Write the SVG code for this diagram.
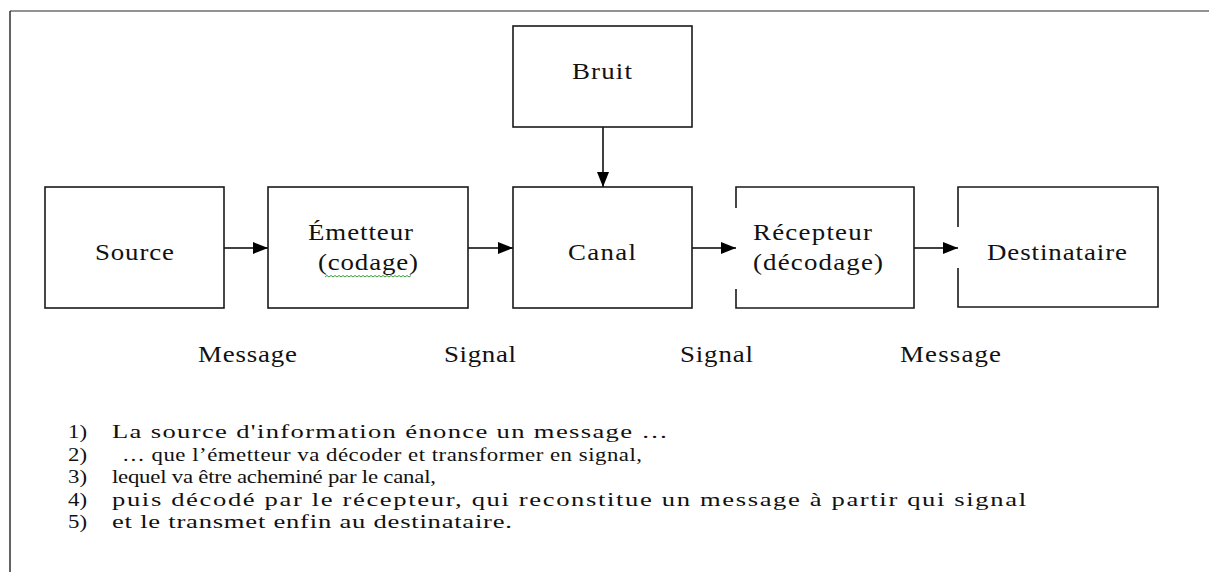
<svg xmlns="http://www.w3.org/2000/svg" width="1209" height="572" viewBox="0 0 1209 572">
<style>
.box{fill:#fff;stroke:#1a1a1a;stroke-width:1.6}
.edge{fill:none;stroke:#1a1a1a;stroke-width:1.6}
.con{fill:none;stroke:#000;stroke-width:1.5}
.lbl{font-family:"Liberation Serif","Times New Roman",serif;font-size:24px;fill:#111}
.lst{font-family:"Liberation Serif","Times New Roman",serif;font-size:19px;fill:#111}
</style>
<defs>
<marker id="ah" markerUnits="userSpaceOnUse" markerWidth="16" markerHeight="14" refX="15" refY="6" orient="auto">
<path d="M0,0 L15,6 L0,12 Z" fill="#000"/>
</marker>
</defs>
<rect width="1209" height="572" fill="#fff"/>
<g id="frame">
<line x1="10" y1="11" x2="1209" y2="11" stroke="#6e6e6e" stroke-width="1.6"/>
<line x1="10" y1="11" x2="10" y2="572" stroke="#222" stroke-width="1.4"/>
</g>
<g id="connectors">
<line class="con" x1="224" y1="248" x2="268" y2="248" marker-end="url(#ah)"/>
<line class="con" x1="468" y1="248" x2="513" y2="248" marker-end="url(#ah)"/>
<line class="con" x1="692" y1="248" x2="736" y2="248" marker-end="url(#ah)"/>
<line class="con" x1="914" y1="248" x2="958" y2="248" marker-end="url(#ah)"/>
<line class="con" x1="603" y1="127" x2="603" y2="187" marker-end="url(#ah)"/>
</g>
<g id="bruit">
<rect class="box" x="513" y="26" width="179" height="101"/>
<text class="lbl" transform="scale(1.12,1)" x="510.7" y="79" textLength="53.6" lengthAdjust="spacing">Bruit</text>
</g>
<g id="source">
<rect class="box" x="45" y="187" width="179" height="121"/>
<text class="lbl" transform="scale(1.12,1)" x="84.8" y="260" textLength="70.5" lengthAdjust="spacing">Source</text>
</g>
<g id="emetteur">
<rect class="box" x="268" y="187" width="200" height="121"/>
<text class="lbl" transform="scale(1.12,1)" x="275" y="240" textLength="93.7" lengthAdjust="spacing">Émetteur</text>
<text class="lbl" transform="scale(1.12,1)" x="283.9" y="270" textLength="89.3" lengthAdjust="spacing">(codage)</text>
<path d="M325,277 l2,-1.5 l2,1.5 l2,-1.5 l2,1.5 l2,-1.5 l2,1.5 l2,-1.5 l2,1.5 l2,-1.5 l2,1.5 l2,-1.5 l2,1.5 l2,-1.5 l2,1.5 l2,-1.5 l2,1.5 l2,-1.5 l2,1.5 l2,-1.5 l2,1.5 l2,-1.5 l2,1.5 l2,-1.5 l2,1.5 l2,-1.5 l2,1.5 l2,-1.5 l2,1.5 l2,-1.5 l2,1.5 l2,-1.5 l2,1.5 l2,-1.5 l2,1.5 l2,-1.5 l2,1.5 l2,-1.5 l2,1.5 l2,-1.5 l2,1.5 l2,-1.5 l2,1.5 l2,-1.5" fill="none" stroke="#3a9a3a" stroke-width="1"/>
</g>
<g id="canal">
<rect class="box" x="513" y="187" width="179" height="121"/>
<text class="lbl" transform="scale(1.12,1)" x="507.1" y="260" textLength="60.7" lengthAdjust="spacing">Canal</text>
</g>
<g id="recepteur">
<path class="edge" d="M736,208 V187 H914 V308 H736 V289"/>
<text class="lbl" transform="scale(1.12,1)" x="672.3" y="240" textLength="106.2" lengthAdjust="spacing">Récepteur</text>
<text class="lbl" transform="scale(1.12,1)" x="672.3" y="270" textLength="116.1" lengthAdjust="spacing">(décodage)</text>
</g>
<g id="destinataire">
<path class="edge" d="M958,227 V187 H1158 V307 H958 V268"/>
<text class="lbl" transform="scale(1.12,1)" x="881.2" y="260" textLength="125" lengthAdjust="spacing">Destinataire</text>
</g>
<g id="labels">
<text class="lbl" transform="scale(1.12,1)" x="176.8" y="362" textLength="88.4" lengthAdjust="spacing">Message</text>
<text class="lbl" transform="scale(1.12,1)" x="396.4" y="362" textLength="64.3" lengthAdjust="spacing">Signal</text>
<text class="lbl" transform="scale(1.12,1)" x="607.1" y="362" textLength="65.2" lengthAdjust="spacing">Signal</text>
<text class="lbl" transform="scale(1.12,1)" x="803.6" y="362" textLength="90.2" lengthAdjust="spacing">Message</text>
</g>
<g id="list">
<g transform="scale(1.2,1)">
<text class="lst" x="56.7" y="438">1)</text>
<text class="lst" x="56.7" y="461">2)</text>
<text class="lst" x="101.7" y="461" textLength="433.3" lengthAdjust="spacing">… que l’émetteur  va décoder et transformer en signal,</text>
<text class="lst" x="56.7" y="483">3)</text>
<text class="lst" x="93.3" y="483" textLength="270" lengthAdjust="spacing">lequel va être acheminé par le canal,</text>
<text class="lst" x="56.7" y="506">4)</text>
<text class="lst" x="56.7" y="528">5)</text>
</g>
<g transform="scale(1.4,1)">
<text class="lst" x="80" y="438" textLength="397.1" lengthAdjust="spacing">La source d'information énonce un message …</text>
<text class="lst" x="80" y="506" textLength="652.9" lengthAdjust="spacing">puis décodé par le récepteur, qui reconstitue un message à partir qui signal</text>
<text class="lst" x="80" y="528" textLength="285.7" lengthAdjust="spacing">et le transmet enfin au destinataire.</text>
</g>
</g>
</svg>
